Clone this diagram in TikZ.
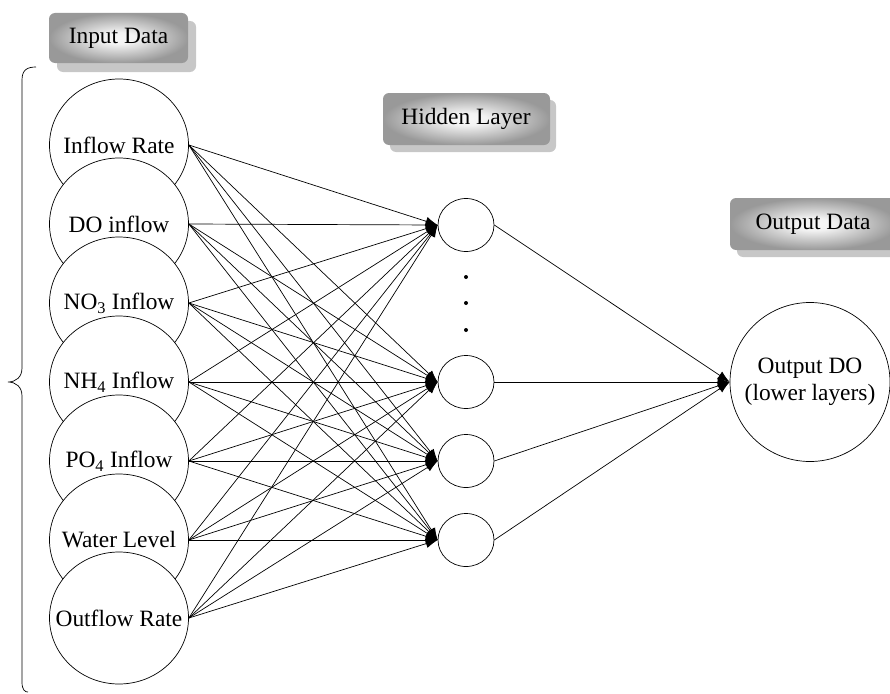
\documentclass[tikz,border=0pt]{standalone}
\usepackage{fontspec}
\setmainfont{Liberation Serif}
\usetikzlibrary{shapes.geometric,arrows.meta}
\pgfdeclareradialshading{boxshade}{\pgfpoint{0bp}{0bp}}{color(0bp)=(white!97!black); color(6bp)=(white!95!black); color(25bp)=(black!40); color(50bp)=(black!40)}
\begin{document}
\begin{tikzpicture}[x=1pt,y=-1pt,
  every node/.style={font=\fontsize{23.4}{27}\selectfont},
  innode/.style={ellipse,draw,fill=white,line width=0.7pt,minimum width=139pt,minimum height=132pt,inner sep=0pt,label={center:#1}},
  hidnode/.style={ellipse,draw,fill=white,line width=0.7pt,minimum width=56pt,minimum height=53pt,inner sep=0pt},
  outnode/.style={ellipse,draw,fill=white,line width=0.7pt,minimum width=160pt,minimum height=159pt,inner sep=0pt,label={[align=center]center:#1}},
  conn/.style={line width=0.7pt,-{Latex[length=12pt,width=9pt]}},
  labelbox/.style={rounded corners=6pt,shading=boxshade,draw=none},
  shadowbox/.style={rounded corners=6pt,fill=black!22,draw=none}]
\useasboundingbox (0,0) rectangle (890,693);
\clip (0,0) rectangle (890,693);
% label boxes
\fill[shadowbox] (57,21) rectangle (196,72);
\path[labelbox] (49,13) rectangle (188,63);
\node (lin) at (118.5,38) {Input Data};
\fill[shadowbox] (390,100) rectangle (556,152);
\path[labelbox] (383,93) rectangle (550,145);
\node (lhid) at (466,119) {Hidden Layer};
\fill[shadowbox] (737,205) rectangle (903,257);
\path[labelbox] (730,198) rectangle (897,250);
\node (lout) at (813,224) {Output Data};
% brace
\draw[line width=0.7pt] (36,67) .. controls (27,67) and (22,70) .. (22,80) -- (22,368)
  .. controls (22,377) and (16,382) .. (8,382)
  .. controls (16,382) and (22,387) .. (22,396) -- (22,682)
  .. controls (22,690) and (25,692) .. (28,692);
% input nodes
\node[innode={Inflow Rate}] (i1) at (119,145) {};
\node[innode={DO inflow}] (i2) at (119,224) {};
\node[innode={NO\textsubscript{3} Inflow}] (i3) at (119,303) {};
\node[innode={NH\textsubscript{4} Inflow}] (i4) at (119,382) {};
\node[innode={PO\textsubscript{4} Inflow}] (i5) at (119,461) {};
\node[innode={Water Level}] (i6) at (119,540) {};
\node[innode={Outflow Rate}] (i7) at (119,618) {};
% hidden nodes
\node[hidnode] (h1) at (466,225) {};
\node[hidnode] (h2) at (466,382) {};
\node[hidnode] (h3) at (466,461) {};
\node[hidnode] (h4) at (466,540) {};
\fill (466,277) circle (2pt) (466,303) circle (2pt) (466,330) circle (2pt);
% output node
\node[outnode={Output DO\\(lower layers)}] (o) at (810,382) {};
% connectors
\foreach \i in {1,...,7}{
  \foreach \h in {1,...,4}{
    \draw[conn] (i\i.east) -- (h\h.west);
  }
}
\foreach \h in {1,...,4}{
  \draw[conn] (h\h.east) -- (o.west);
}
\end{tikzpicture}
\end{document}
